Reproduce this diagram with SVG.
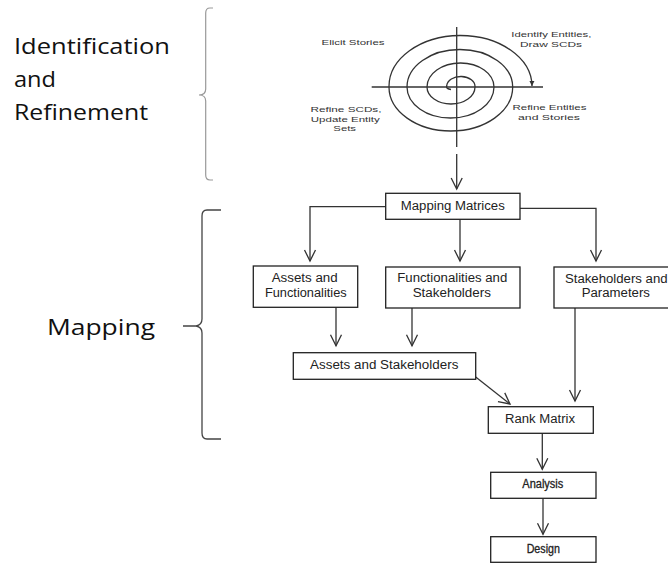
<svg xmlns="http://www.w3.org/2000/svg" width="668" height="563" viewBox="0 0 668 563">
<style>
.box{fill:#fff;stroke:#222;stroke-width:1.3}
.ln{fill:none;stroke:#333;stroke-width:1.3}
.bt{font-family:"Liberation Sans",Arial,sans-serif;font-size:12.5px;fill:#222;text-anchor:middle}
.nt{font-family:"Liberation Sans",Arial,sans-serif;font-size:12px;fill:#222;text-anchor:middle}
.st{font-family:"Liberation Sans",Arial,sans-serif;font-size:8px;fill:#333;text-anchor:middle}
.lt{font-family:"Open Sans","Noto Sans",sans-serif;font-size:22px;fill:#111}
</style>
<defs>
<marker id="v" markerUnits="userSpaceOnUse" markerWidth="14" markerHeight="14" refX="0" refY="0" viewBox="-12 -7 14 14" orient="auto" overflow="visible">
<path d="M-11,-5.5 L0,0 L-11,5.5" fill="none" stroke="#333" stroke-width="1.3"/>
</marker>
<marker id="f" markerUnits="userSpaceOnUse" markerWidth="8" markerHeight="8" refX="0" refY="0" viewBox="-6 -4 8 8" orient="auto" overflow="visible">
<path d="M-5,-2.5 L0,0 L-5,2.5 Z" fill="#333"/>
</marker>
</defs>

<g id="labels">
<text class="lt" x="14" y="54" textLength="156" lengthAdjust="spacingAndGlyphs">Identification</text>
<text class="lt" x="14" y="87" textLength="42" lengthAdjust="spacingAndGlyphs">and</text>
<text class="lt" x="14" y="120" textLength="134" lengthAdjust="spacingAndGlyphs">Refinement</text>
<text class="lt" x="47" y="335" textLength="108" lengthAdjust="spacingAndGlyphs">Mapping</text>
</g>

<g id="braces">
<path d="M213,8 L210,8 Q205.7,8 205.7,13 L205.7,89 Q205.7,95 199,95 Q205.7,95 205.7,101 L205.7,175 Q205.7,180 210,180 L213,180" fill="none" stroke="#999" stroke-width="1.2"/>
<path d="M221,210 L207,210 Q202,210 202,216 L202,319 Q202,325 196,326 L183,326 M196,326 Q202,327 202,333 L202,433 Q202,439 207,439 L221,439" fill="none" stroke="#444" stroke-width="1.3"/>
</g>

<g id="spiral">
<line class="ln" x1="371.7" y1="87" x2="543" y2="87" stroke-width="1.1"/>
<line class="ln" x1="456.7" y1="27" x2="456.7" y2="147" stroke-width="1.1"/>
<path class="ln" stroke-width="1.2" marker-end="url(#f)" d="M451,89.5 Q446,89 446.7,86 A14.15,10 0 0 1 475,87 A24,17 0 0 1 427,87 A33.5,24 0 0 1 494,87 A43.5,31 0 0 1 407,87 A52.85,37.5 0 0 1 512.7,87 A61.85,44 0 0 1 389,87 A71.5,51 0 0 1 532,86"/>
<text class="st" x="353" y="45" textLength="63" lengthAdjust="spacingAndGlyphs">Elicit Stories</text>
<text class="st" x="551.3" y="37.3" textLength="80" lengthAdjust="spacingAndGlyphs">Identify Entities,</text>
<text class="st" x="551" y="47.3" textLength="62" lengthAdjust="spacingAndGlyphs">Draw SCDs</text>
<text class="st" x="549.5" y="110" textLength="74" lengthAdjust="spacingAndGlyphs">Refine Entities</text>
<text class="st" x="549" y="119.5" textLength="62" lengthAdjust="spacingAndGlyphs">and  Stories</text>
<text class="st" x="346" y="112" textLength="71" lengthAdjust="spacingAndGlyphs">Refine SCDs,</text>
<text class="st" x="345.3" y="121.5" textLength="69" lengthAdjust="spacingAndGlyphs">Update Entity</text>
<text class="st" x="344.7" y="131" textLength="22.7" lengthAdjust="spacingAndGlyphs">Sets</text>
</g>

<g id="connectors">
<line class="ln" x1="456.7" y1="154" x2="456.7" y2="189" marker-end="url(#v)"/>
<polyline class="ln" points="385.7,206.7 310,206.7 310,261" marker-end="url(#v)"/>
<line class="ln" x1="460" y1="219.3" x2="460" y2="261" marker-end="url(#v)"/>
<polyline class="ln" points="520,208.3 596,208.3 596,261" marker-end="url(#v)"/>
<line class="ln" x1="336" y1="307.3" x2="336" y2="345.7" marker-end="url(#v)"/>
<line class="ln" x1="412" y1="308" x2="412" y2="345.7" marker-end="url(#v)"/>
<line class="ln" x1="475.7" y1="377" x2="510" y2="404" marker-end="url(#v)"/>
<line class="ln" x1="575" y1="308" x2="575" y2="401" marker-end="url(#v)"/>
<line class="ln" x1="542.3" y1="433.3" x2="542.3" y2="469.3" marker-end="url(#v)"/>
<line class="ln" x1="543" y1="498.3" x2="543" y2="534.3" marker-end="url(#v)"/>
</g>

<g id="mapping-matrices">
<rect class="box" x="385.7" y="193.3" width="134.3" height="26"/>
<text class="bt" x="452.8" y="210" textLength="104" lengthAdjust="spacingAndGlyphs">Mapping Matrices</text>
</g>
<g id="assets-functionalities">
<rect class="box" x="253.3" y="266" width="104.4" height="41.3"/>
<text class="bt" x="304.7" y="282.3" textLength="66" lengthAdjust="spacingAndGlyphs">Assets and</text>
<text class="bt" x="305.8" y="297.3" textLength="81.7" lengthAdjust="spacingAndGlyphs">Functionalities</text>
</g>
<g id="functionalities-stakeholders">
<rect class="box" x="385.7" y="267" width="134.3" height="41"/>
<text class="bt" x="452.3" y="282.3" textLength="110" lengthAdjust="spacingAndGlyphs">Functionalities and</text>
<text class="bt" x="451.8" y="297.3" textLength="78.3" lengthAdjust="spacingAndGlyphs">Stakeholders</text>
</g>
<g id="stakeholders-parameters">
<rect class="box" x="554" y="267" width="126" height="41"/>
<text class="bt" x="616.3" y="283" textLength="102.7" lengthAdjust="spacingAndGlyphs">Stakeholders and</text>
<text class="bt" x="615.8" y="296.7" textLength="68.3" lengthAdjust="spacingAndGlyphs">Parameters</text>
</g>
<g id="assets-stakeholders">
<rect class="box" x="293.3" y="352.7" width="182.4" height="26.6"/>
<text class="bt" x="384.2" y="369.3" textLength="148.3" lengthAdjust="spacingAndGlyphs">Assets and  Stakeholders</text>
</g>
<g id="rank-matrix">
<rect class="box" x="488.3" y="406.7" width="105" height="26.6"/>
<text class="bt" x="540" y="423.3" textLength="70" lengthAdjust="spacingAndGlyphs">Rank Matrix</text>
</g>
<g id="analysis">
<rect class="box" x="490.7" y="472.3" width="105.3" height="26"/>
<text class="nt" x="542.8" y="488.3" textLength="41" lengthAdjust="spacingAndGlyphs" stroke="#222" stroke-width="0.3">Analysis</text>
</g>
<g id="design">
<rect class="box" x="490.7" y="536.7" width="105.3" height="25.6"/>
<text class="nt" x="543.3" y="553.3" textLength="33.3" lengthAdjust="spacingAndGlyphs" stroke="#222" stroke-width="0.3">Design</text>
</g>
</svg>
